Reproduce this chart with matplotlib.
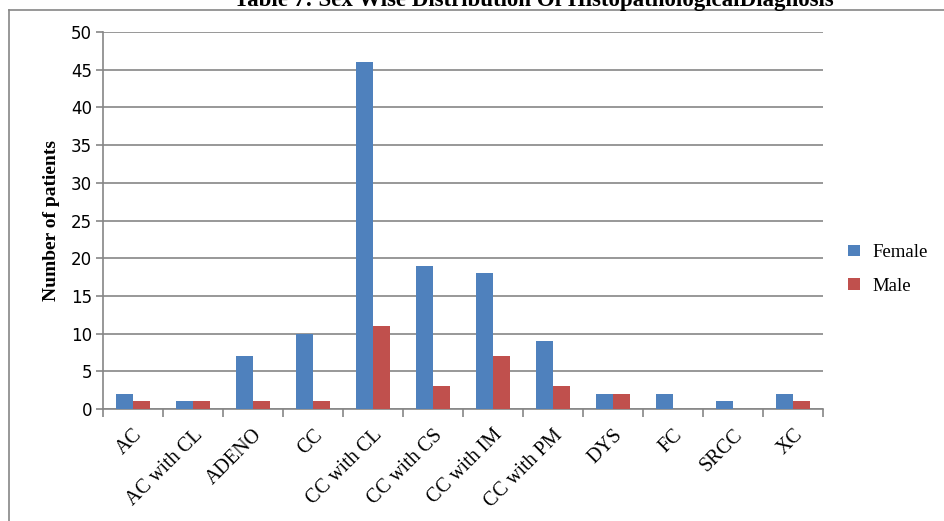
import numpy as np
import matplotlib.pyplot as plt
from matplotlib.lines import Line2D

# --- DATA ---
diagnoses = ["AC", "AC with CL", "ADENO", "CC", "CC with CL", "CC with CS",
             "CC with IM", "CC with PM", "DYS", "FC", "SRCC", "XC"]
female = [2, 1, 7, 10, 46, 19, 18, 9, 2, 2, 1, 2]
male = [1, 1, 1, 1, 11, 3, 7, 3, 2, 0, 0, 1]
yticks = list(range(0, 55, 5))

BLUE = "#4F81BD"
RED = "#C0504D"
GRID = "#868686"
SERIF = "Liberation Serif"

W, H = 944, 521
fig = plt.figure(figsize=(W / 100, H / 100), dpi=100)

# chart frame (only top and left edges fall inside the figure)
fig.add_artist(Line2D([9 / W, 9 / W], [0, 1 - 10 / H], color=GRID, lw=1.2,
                      transform=fig.transFigure))
fig.add_artist(Line2D([9 / W, 1], [1 - 10 / H, 1 - 10 / H], color=GRID, lw=1.2,
                      transform=fig.transFigure))

# plot area: x 103..823, y 32..409 px
ax = fig.add_axes([103 / W, 1 - 409 / H, 720 / W, 377 / H])

x = np.arange(len(diagnoses))
bw = 0.285
ax.bar(x - bw / 2, female, bw, color=BLUE, label="Female", zorder=3)
ax.bar(x + bw / 2, male, bw, color=RED, label="Male", zorder=3)

ax.set_xlim(-0.5, len(diagnoses) - 0.5)
ax.set_ylim(0, 50)
ax.set_yticks(yticks)
ax.yaxis.grid(True, color=GRID, lw=1.2, zorder=0)
ax.set_axisbelow(True)

for s in ["top", "right"]:
    ax.spines[s].set_visible(False)
for s in ["left", "bottom"]:
    ax.spines[s].set_color(GRID)
    ax.spines[s].set_linewidth(1.2)

# category boundaries as tick marks, labels centred under each group
ax.set_xticks(np.arange(-0.5, len(diagnoses), 1.0))
ax.set_xticklabels([])
ax.set_xticks(x, minor=True)
ax.set_xticklabels(diagnoses, minor=True, rotation=45, ha="right",
                   rotation_mode="anchor", family=SERIF, fontsize=14.5)
ax.tick_params(axis="x", which="major", length=6, width=1.2, color=GRID)
ax.tick_params(axis="x", which="minor", length=0, pad=12)
ax.tick_params(axis="y", length=5, width=1.2, color=GRID, labelsize=12, pad=3)
for lbl in ax.get_yticklabels():
    lbl.set_family("DejaVu Sans")

ax.set_ylabel("Number of patients", family=SERIF, fontweight="bold",
              fontsize=14, labelpad=8)

leg = ax.legend(loc="center left", bbox_to_anchor=(1.025, 0.37), frameon=False,
                prop={"family": SERIF, "size": 13.5}, handlelength=0.6,
                handleheight=0.6, handletextpad=0.7, labelspacing=0.9,
                borderaxespad=0)

fig.text(534 / W, 1 - 6 / H, "Table 7: Sex Wise Distribution Of HistopathologicalDiagnosis",
         ha="center", va="baseline", family=SERIF, fontweight="bold", fontsize=16.5)

fig.savefig("out.png", dpi=100)
